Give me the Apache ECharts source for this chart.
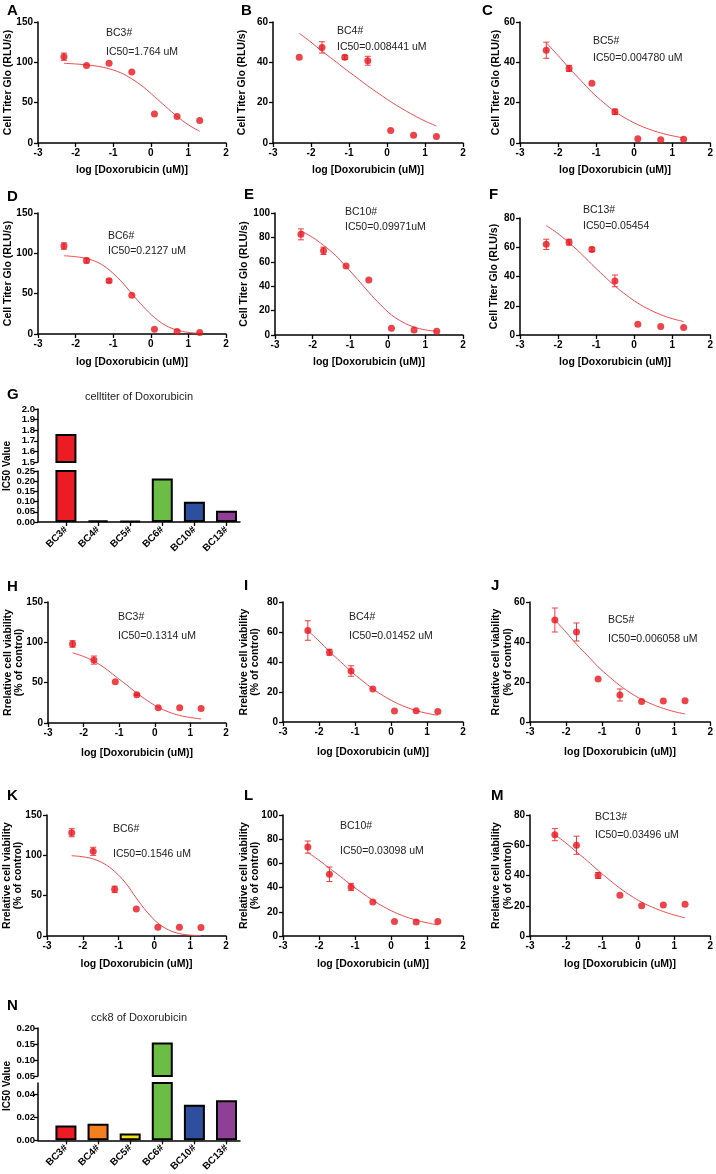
<!DOCTYPE html>
<html>
<head>
<meta charset="utf-8">
<script src="https://cdn.jsdelivr.net/npm/echarts@6/dist/echarts.min.js"></script>
<style>
  html, body { margin: 0; padding: 0; background: #fff; }
  #fig { width: 716px; height: 1174px; }
</style>
</head>
<body>
<div id="fig"></div>
<script>
// log10 of the doses (uM) and the x positions where the fitted curves were read
var logDose = [-2.31, -1.71, -1.11, -0.505, 0.097, 0.699, 1.301];
var fitDose = [-2.31, -2.0, -1.71, -1.4, -1.11, -0.8, -0.505, -0.2, 0.097, 0.4, 0.699, 1.0, 1.301];

// celltiter glo panels
var ptsA = [107, 96, 99, 88, 36, 33, 28];
var errA = [4.5, 0, 0, 0, 0, 0, 0];
var fitA = [98.8, 98, 96.8, 95, 92, 87, 79.5, 69.5, 57.5, 45, 33, 22.5, 14.5];

var ptsB = [42.5, 47.4, 42.5, 40.8, 6.2, 3.8, 3.2];
var errB = [0, 2.8, 1, 2.2, 0, 0, 0];
var fitB = [54.4, 50.0, 45.5, 41.1, 36.8, 32.5, 28.3, 24.3, 20.5, 17.0, 13.8, 10.9, 8.4];

var ptsC = [46, 37, 29.6, 15.5, 2.1, 1.6, 1.9];
var errC = [4, 1.5, 0, 1.3, 0, 0, 0];
var fitC = [49.7, 43.4, 37.2, 31.0, 25.2, 20.0, 15.6, 12.0, 9.1, 6.8, 5.0, 3.6, 2.5];

var ptsD = [109, 91, 66, 48, 6, 3, 2];
var errD = [4, 3, 2, 0, 0, 0, 0];
var fitD = [97, 95.8, 93.5, 88.5, 79.5, 66, 50, 34, 20.5, 10.5, 4.8, 2, 0.8];

var ptsE = [82.5, 69, 56.5, 45, 5.5, 4, 3];
var errE = [4.5, 3, 0, 0, 0, 0, 0];
var fitE = [85.4, 80, 73.5, 65.5, 56, 45.5, 35, 25, 16.5, 10.5, 6.5, 4.2, 3];

var ptsF = [62, 63.5, 58.5, 37, 7.3, 5.8, 5.2];
var errF = [3.5, 2, 1.5, 4, 0, 0, 0];
var fitF = [74.8, 69.3, 63, 55.8, 48.2, 40.6, 33.5, 27.2, 21.8, 17.4, 13.9, 11.2, 9.2];

// cck8 panels
var ptsH = [98, 78, 51, 35, 19, 19, 18];
var errH = [4, 5, 0, 1, 0, 0, 0];
var fitH = [87, 82.5, 76.5, 68, 58, 47.5, 37, 27.5, 19.5, 13.5, 9.3, 6.8, 5];

var ptsI = [61, 46.5, 34, 22, 7.3, 7.5, 7];
var errI = [6.5, 2, 3.5, 0, 0, 0, 0];
var fitI = [61, 54, 47, 40.2, 33.7, 27.6, 22.1, 17.3, 13.3, 10.1, 7.6, 5.8, 4.4];

var ptsJ = [51, 45, 21.5, 13.5, 10.3, 10.5, 10.6];
var errJ = [6, 4.5, 0, 3, 0, 0, 0];
var fitJ = [51, 44.9, 38.9, 33.1, 27.6, 22.6, 18.2, 14.4, 11.3, 8.8, 6.8, 5.2, 4.0];

var ptsK = [128, 105, 57.8, 33.5, 10.7, 11, 10.5];
var errK = [5, 5, 4, 0, 0, 0, 0];
var fitK = [99.5, 98.2, 95.5, 89.5, 80, 65.5, 47, 29.5, 16, 7.5, 3, 1.1, 0.4];

var ptsL = [73.5, 51, 40.5, 28, 12, 11.5, 12];
var errL = [5, 6, 3, 0, 0, 0, 0];
var fitL = [69, 62.6, 56, 49.1, 42.2, 35.6, 29.5, 24.1, 19.6, 16, 13.1, 10.9, 9.1];

var ptsM = [67, 60, 40, 27, 20, 20.5, 21];
var errM = [4, 6, 2, 0, 0, 0, 0];
var fitM = [67, 61.4, 55.6, 49.5, 43.3, 37.2, 31.6, 26.6, 22.4, 19, 16.2, 13.9, 12];

// IC50 bar charts
var barNames = ['BC3#', 'BC4#', 'BC5#', 'BC6#', 'BC10#', 'BC13#'];
var ic50Celltiter = [1.764, 0.008441, 0.00478, 0.2127, 0.09971, 0.05454];
var ic50Cck8 = [0.013, 0.0145, 0.006, 0.1546, 0.031, 0.035];
var barColors = ['#ec1c24', '#f47f20', '#f3e31a', '#6cbd45', '#2e4f9e', '#8f3f95'];

var FONT = '"Liberation Sans", Arial, Helvetica, sans-serif';
var cellTitle = ['Cell Titer Glo (RLU/s)'];
var viaTitle = ['Rrelative cell viability', '(% of control)'];

var panels = [
  {letter: 'A', lx: 7, ly: 11, pts: ptsA, err: errA, fit: fitA, grid: [38, 22, 188, 121], yMax: 150, yInt: 50, xGap: 22, title: cellTitle, tx: [8], name: 'BC3#', ic: 'IC50=1.764 uM', nx: 106, ny: 33, iy: 52},
  {letter: 'B', lx: 241, ly: 11, pts: ptsB, err: errB, fit: fitB, grid: [273, 22, 190, 121], yMax: 60, yInt: 20, xGap: 22, title: cellTitle, tx: [242], name: 'BC4#', ic: 'IC50=0.008441 uM', nx: 337, ny: 31, iy: 47},
  {letter: 'C', lx: 482, ly: 11, pts: ptsC, err: errC, fit: fitC, grid: [520, 22, 194, 121], yMax: 60, yInt: 20, xGap: 22, title: cellTitle, tx: [496], name: 'BC5#', ic: 'IC50=0.004780 uM', nx: 593, ny: 41, iy: 58},
  {letter: 'D', lx: 7, ly: 197, pts: ptsD, err: errD, fit: fitD, grid: [38, 213, 188, 121], yMax: 150, yInt: 50, xGap: 23, title: cellTitle, tx: [8], name: 'BC6#', ic: 'IC50=0.2127 uM', nx: 108, ny: 236, iy: 251},
  {letter: 'E', lx: 244, ly: 195, pts: ptsE, err: errE, fit: fitE, grid: [275, 213, 188, 122], yMax: 100, yInt: 20, xGap: 22, title: cellTitle, tx: [244], name: 'BC10#', ic: 'IC50=0.09971uM', nx: 345, ny: 212, iy: 227},
  {letter: 'F', lx: 489, ly: 195, pts: ptsF, err: errF, fit: fitF, grid: [520, 218, 194, 117], yMax: 80, yInt: 20, xGap: 22, title: cellTitle, tx: [494], name: 'BC13#', ic: 'IC50=0.05454', nx: 583, ny: 210, iy: 226},
  {letter: 'H', lx: 7, ly: 587, pts: ptsH, err: errH, fit: fitH, grid: [48, 602, 178, 121], yMax: 150, yInt: 50, xGap: 25, title: viaTitle, tx: [8, 19], name: 'BC3#', ic: 'IC50=0.1314 uM', nx: 118, ny: 617, iy: 636},
  {letter: 'I', lx: 244, ly: 586, pts: ptsI, err: errI, fit: fitI, grid: [283, 602, 180, 120], yMax: 80, yInt: 20, xGap: 25, title: viaTitle, tx: [244, 255], name: 'BC4#', ic: 'IC50=0.01452 uM', nx: 349, ny: 617, iy: 636},
  {letter: 'J', lx: 491, ly: 586, pts: ptsJ, err: errJ, fit: fitJ, grid: [530, 602, 184, 120], yMax: 60, yInt: 20, xGap: 25, title: viaTitle, tx: [496, 508], name: 'BC5#', ic: 'IC50=0.006058 uM', nx: 608, ny: 620, iy: 639},
  {letter: 'K', lx: 7, ly: 796, pts: ptsK, err: errK, fit: fitK, grid: [47, 815, 179, 121], yMax: 150, yInt: 50, xGap: 23, title: viaTitle, tx: [7, 18], name: 'BC6#', ic: 'IC50=0.1546 uM', nx: 113, ny: 829, iy: 854},
  {letter: 'L', lx: 244, ly: 796, pts: ptsL, err: errL, fit: fitL, grid: [283, 815, 180, 121], yMax: 100, yInt: 20, xGap: 23, title: viaTitle, tx: [244, 255], name: 'BC10#', ic: 'IC50=0.03098 uM', nx: 340, ny: 826, iy: 851},
  {letter: 'M', lx: 491, ly: 796, pts: ptsM, err: errM, fit: fitM, grid: [530, 815, 184, 121], yMax: 80, yInt: 20, xGap: 23, title: viaTitle, tx: [496, 508], name: 'BC13#', ic: 'IC50=0.03496 uM', nx: 595, ny: 817, iy: 835}
];

var grids = [], xAxes = [], yAxes = [], series = [], graphic = [];

function txt(x, y, s, size, bold, rot, align) {
  graphic.push({
    type: 'text', x: x, y: y, rotation: rot || 0, silent: true,
    style: {
      text: s, fontSize: size, fontWeight: bold ? 'bold' : 'normal', fontFamily: FONT,
      fill: bold ? '#000' : '#222', align: align || 'left', verticalAlign: 'middle'
    }
  });
}

function axisStyle() {
  return {
    axisLine: {show: true, onZero: false, lineStyle: {color: '#000', width: 1.5}},
    axisTick: {show: true, length: 4, lineStyle: {color: '#000', width: 1.3}},
    axisLabel: {color: '#000', fontSize: 10, fontWeight: 'bold', fontFamily: FONT, margin: 5},
    splitLine: {show: false}
  };
}

function renderErr(params, api) {
  var x = api.value(0), y = api.value(1), e = api.value(2);
  var hi = api.coord([x, y + e]);
  var lo = api.coord([x, y - e]);
  var cap = 3;
  function st() { return {stroke: '#ee3a40', lineWidth: 1, fill: null}; }
  return {
    type: 'group',
    children: [
      {type: 'line', shape: {x1: hi[0], y1: hi[1], x2: lo[0], y2: lo[1]}, style: st()},
      {type: 'line', shape: {x1: hi[0] - cap, y1: hi[1], x2: hi[0] + cap, y2: hi[1]}, style: st()},
      {type: 'line', shape: {x1: lo[0] - cap, y1: lo[1], x2: lo[0] + cap, y2: lo[1]}, style: st()}
    ]
  };
}

panels.forEach(function (p, i) {
  grids.push({left: p.grid[0], top: p.grid[1], width: p.grid[2], height: p.grid[3]});
  xAxes.push(Object.assign(axisStyle(), {
    gridIndex: i, type: 'value', min: -3, max: 2, interval: 1,
    name: 'log [Doxorubicin (uM)]', nameLocation: 'middle', nameGap: p.xGap,
    nameTextStyle: {color: '#000', fontSize: 10.5, fontWeight: 'bold', fontFamily: FONT}
  }));
  yAxes.push(Object.assign(axisStyle(), {gridIndex: i, type: 'value', min: 0, max: p.yMax, interval: p.yInt}));

  series.push({
    type: 'line', xAxisIndex: i, yAxisIndex: i, silent: true, z: 2,
    data: fitDose.map(function (x, k) { return [x, p.fit[k]]; }),
    smooth: 0.4, symbol: 'none',
    lineStyle: {color: '#f04a50', width: 1}
  });
  series.push({
    type: 'custom', xAxisIndex: i, yAxisIndex: i, silent: true, z: 3,
    renderItem: renderErr,
    data: logDose.map(function (x, k) { return [x, p.pts[k], p.err[k]]; })
      .filter(function (d) { return d[2] > 0; })
  });
  series.push({
    type: 'scatter', xAxisIndex: i, yAxisIndex: i, silent: true, z: 4,
    data: logDose.map(function (x, k) { return [x, p.pts[k]]; }),
    symbolSize: 7, itemStyle: {color: '#e8141d'}
  });

  txt(p.lx, p.ly, p.letter, 15, true);
  var cy = p.grid[1] + p.grid[3] / 2;
  p.title.forEach(function (t, k) { txt(p.tx[k], cy, t, 10.5, true, Math.PI / 2, 'center'); });
  txt(p.nx, p.ny, p.name, 10.5, false);
  txt(p.nx, p.iy, p.ic, 10.5, false);
});

// broken-axis bar panels: upper and lower part are separate grids
function barPart(vals, box, yMin, yMax, yOpt, withX, keep) {
  var gi = grids.length;
  grids.push({left: box[0], top: box[1], width: box[2], height: box[3]});
  if (withX) {
    var xa = axisStyle();
    xa.axisTick.customValues = [0, 1, 2, 3, 4, 5];
    xa.axisLabel.customValues = [0, 1, 2, 3, 4, 5];
    xa.axisLabel.rotate = 45;
    xa.axisLabel.margin = 6;
    xa.axisLabel.formatter = function (v) { return barNames[Math.round(v)]; };
    xAxes.push(Object.assign(xa, {gridIndex: gi, type: 'value', min: -0.87, max: 5.42}));
  } else {
    xAxes.push({gridIndex: gi, type: 'value', min: -0.87, max: 5.42, show: false});
  }
  var ya = axisStyle();
  ya.axisLabel.formatter = yOpt.fmt;
  ya.axisLabel.fontSize = 9.5;
  ya.axisLabel.margin = 3;
  if (yOpt.custom) {
    ya.axisLabel.customValues = yOpt.custom;
    ya.axisTick.customValues = yOpt.custom;
  }
  yAxes.push(Object.assign(ya, {gridIndex: gi, type: 'value', min: yMin, max: yMax, interval: yOpt.interval}));
  series.push({
    type: 'bar', xAxisIndex: gi, yAxisIndex: gi, silent: true, barWidth: 21, clip: true,
    data: vals.map(function (v, k) { return [k, keep(v) ? v : '-']; }),
    itemStyle: {
      color: function (q) { return barColors[q.dataIndex]; },
      borderColor: '#000', borderWidth: 2
    }
  });
}

function fmt1(v) { return v.toFixed(1); }
function fmt2(v) { return v.toFixed(2); }

barPart(ic50Celltiter, [38, 409, 202, 53], 1.5, 2.0, {interval: 0.1, fmt: fmt1}, false, function (v) { return v >= 1.5; });
barPart(ic50Celltiter, [38, 471, 202, 51], 0, 0.25, {interval: 0.05, fmt: fmt2}, true, function () { return true; });
barPart(ic50Cck8, [38, 1028, 202, 48], 0.05, 0.20, {interval: 0.05, fmt: fmt2}, false, function (v) { return v >= 0.05; });
barPart(ic50Cck8, [38, 1083, 202, 60], 0, 0.05, {custom: [0, 0.02, 0.04], fmt: fmt2}, true, function () { return true; });

txt(7, 395, 'G', 15, true);
txt(139, 397, 'celltiter of Doxorubicin', 11, false, 0, 'center');
txt(7, 466, 'IC50 Value', 10, true, Math.PI / 2, 'center');
txt(7, 1006, 'N', 15, true);
txt(139, 1018, 'cck8 of Doxorubicin', 11, false, 0, 'center');
txt(7, 1086, 'IC50 Value', 10, true, Math.PI / 2, 'center');

var chart = echarts.init(document.getElementById('fig'));
chart.setOption({
  animation: false,
  backgroundColor: '#fff',
  textStyle: {fontFamily: FONT},
  grid: grids,
  xAxis: xAxes,
  yAxis: yAxes,
  series: series,
  graphic: graphic
});
</script>
</body>
</html>
